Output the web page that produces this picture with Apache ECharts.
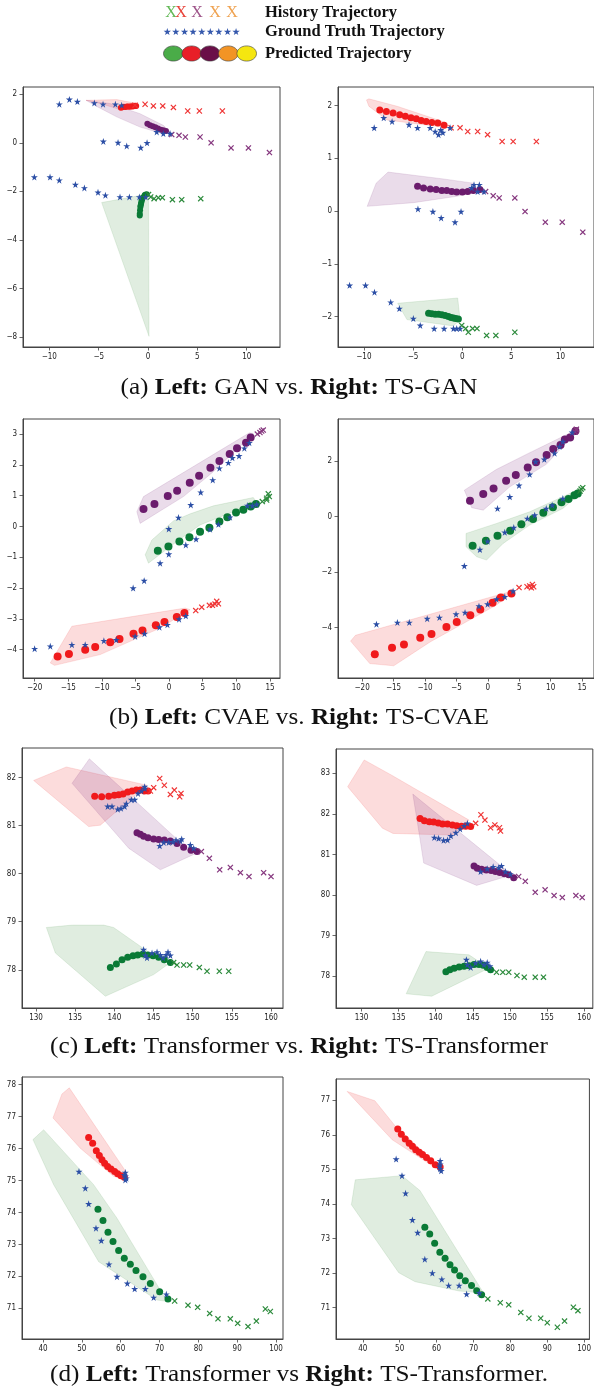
<!DOCTYPE html>
<html><head><meta charset="utf-8">
<script src="https://cdn.jsdelivr.net/npm/echarts@6/dist/echarts.min.js"></script>
<style>html,body{margin:0;padding:0;background:#fff}#c{width:594px;height:1397px}</style>
</head><body><div id="c"></div>
<script>
// ---------------- DATA ----------------
// (a) Left: GAN
const aL_xTicks = [-10,-5,0,5,10];
const aL_yTicks = [-8,-6,-4,-2,0,2];
const aL_gt = [[-8.99,1.59],[-7.97,1.79],[-7.16,1.70],[-5.44,1.64],[-4.56,1.59],[-3.31,1.59],[-2.67,1.55],[-4.53,0.06],[-3.04,0.01],[-2.16,-0.13],[-0.74,-0.20],[-0.10,0.0],[0.88,0.45],[1.55,0.38],[2.23,0.38],[-11.52,-1.41],[-9.93,-1.41],[-8.99,-1.54],[-7.36,-1.72],[-6.45,-1.86],[-5.07,-2.04],[-4.32,-2.16],[-2.84,-2.23],[-1.89,-2.23],[-0.88,-2.23],[-0.24,-2.23]];
const aL_histRed = [[-1.32,1.55],[-0.30,1.59],[0.54,1.52],[1.49,1.52],[2.57,1.46],[4.02,1.31],[5.20,1.31],[7.53,1.31]];
const aL_predRed = [[-2.75,1.45],[-2.6,1.47],[-2.45,1.49],[-2.3,1.48],[-2.15,1.5],[-2.0,1.5],[-1.85,1.49],[-1.7,1.51],[-1.55,1.5],[-1.4,1.52],[-1.3,1.53],[-1.2,1.52]];
const aL_areaRed = [[-6.28,1.75],[-3.18,1.78],[-1.08,1.62],[-1.08,1.41],[-2.84,1.37],[-4.86,1.62]];
const aL_predPurple = [[-0.07,0.79],[0.2,0.72],[0.47,0.68],[0.74,0.64],[1.01,0.59],[1.28,0.54],[1.55,0.52],[1.82,0.49]];
const aL_histPurple = [[2.4,0.34],[3.14,0.31],[3.78,0.24],[5.27,0.24],[6.39,0.0],[8.41,-0.21],[10.17,-0.21],[12.3,-0.40]];
const aL_areaPurple = [[-6.28,1.75],[-3.85,1.62],[-0.81,1.2],[1.55,0.72],[2.06,0.52],[0.88,0.45],[-0.81,0.65],[-3.18,1.07],[-5.2,1.5]];
const aL_predGreen = [[-0.14,-2.12],[-0.3,-2.14],[-0.37,-2.18],[-0.54,-2.26],[-0.6,-2.32],[-0.64,-2.37],[-0.68,-2.45],[-0.71,-2.51],[-0.75,-2.58],[-0.78,-2.64],[-0.81,-2.78],[-0.84,-2.92],[-0.84,-2.99]];
const aL_histGreen = [[0.05,-2.13],[0.27,-2.23],[0.61,-2.30],[1.05,-2.26],[1.45,-2.26],[2.47,-2.34],[3.41,-2.34],[5.34,-2.30]];
const aL_areaGreen = [[-4.70,-2.46],[-0.14,-2.12],[0.05,-2.15],[0.1,-7.97]];

// (a) Right: TS-GAN
const aR_xTicks = [-10,-5,0,5,10];
const aR_yTicks = [-2,-1,0,1,2];
const aR_gt = [[-8.95,1.58],[-7.98,1.77],[-7.13,1.70],[-5.41,1.64],[-4.54,1.58],[-3.25,1.58],[-2.75,1.51],[-2.41,1.45],[-2.18,1.54],[-1.97,1.49],[-1.23,1.58],[0.96,0.44],[1.20,0.50],[1.74,0.50],[1.57,0.37],[2.21,0.37],[-4.50,0.04],[-2.98,-0.01],[-2.14,-0.13],[-0.73,-0.21],[-0.12,-0.01],[-11.45,-1.41],[-9.83,-1.41],[-8.92,-1.54],[-7.27,-1.73],[-6.39,-1.85],[-4.97,-2.04],[-4.27,-2.17],[-2.85,-2.23],[-1.84,-2.23],[-0.89,-2.23],[-0.56,-2.23],[-0.22,-2.23]];
const aR_histRed = [[-1.13,1.58],[-0.22,1.58],[0.56,1.51],[1.57,1.51],[2.58,1.45],[4.06,1.32],[5.18,1.32],[7.54,1.32]];
const aR_predRed = [[-8.38,1.92],[-7.71,1.89],[-7.03,1.86],[-6.36,1.83],[-5.78,1.80],[-5.21,1.77],[-4.67,1.75],[-4.17,1.72],[-3.66,1.70],[-3.09,1.68],[-2.48,1.67],[-1.84,1.63]];
const aR_areaRed = [[-9.73,2.11],[-9.49,2.13],[-6.63,1.99],[-3.25,1.78],[-1.57,1.67],[-1.74,1.59],[-3.93,1.64],[-7.64,1.73],[-9.49,1.99]];
const aR_predPurple = [[-4.54,0.47],[-3.93,0.44],[-3.25,0.42],[-2.65,0.41],[-2.07,0.39],[-1.57,0.39],[-1.06,0.37],[-0.56,0.36],[0.02,0.36],[0.56,0.37],[1.13,0.39],[1.80,0.41]];
const aR_histPurple = [[2.38,0.37],[3.15,0.29],[3.76,0.25],[5.35,0.25],[6.39,-0.01],[8.45,-0.21],[10.17,-0.21],[12.26,-0.40]];
const aR_areaPurple = [[-9.66,0.09],[-8.75,0.53],[-7.54,0.74],[-1.91,0.61],[1.13,0.53],[1.64,0.37],[-0.56,0.28],[-4.94,0.16]];
const aR_predGreen = [[-3.42,-1.94],[-3.09,-1.95],[-2.75,-1.96],[-2.41,-1.96],[-2.07,-1.97],[-1.74,-1.98],[-1.40,-2.0],[-1.13,-2.02],[-0.89,-2.03],[-0.66,-2.04],[-0.39,-2.05]];
const aR_histGreen = [[-0.05,-2.17],[0.35,-2.23],[0.62,-2.30],[1.06,-2.23],[1.50,-2.23],[2.48,-2.36],[3.42,-2.36],[5.35,-2.30]];
const aR_areaGreen = [[-6.56,-1.75],[-0.46,-1.65],[-0.22,-2.06],[-0.89,-2.18],[-5.62,-2.06]];

// (b) Left: CVAE
const bL_xTicks = [-20,-15,-10,-5,0,5,10,15];
const bL_yTicks = [-4,-3,-2,-1,0,1,2,3];
const bL_gt = [[6.49,1.51],[7.48,1.89],[8.81,2.07],[9.41,2.23],[10.40,2.29],[11.19,2.54],[11.93,2.72],[4.70,1.11],[3.22,0.70],[1.39,0.29],[-0.05,-0.08],[-1.34,-1.19],[-3.71,-1.76],[-5.35,-2.0],[-0.05,-0.90],[2.48,-0.60],[4.01,-0.41],[6.09,-0.09],[7.33,0.07],[9.06,0.30],[11.63,0.68],[12.38,0.68],[13.02,0.72],[-20,-3.97],[-17.67,-3.89],[-14.46,-3.84],[-12.48,-3.84],[-9.70,-3.71],[-7.87,-3.68],[-5.05,-3.57],[-3.66,-3.48],[-1.44,-3.27],[-0.25,-3.19],[1.48,-3.01],[2.48,-2.90]];
const bL_predPurple = [[-3.81,0.57],[-2.18,0.73],[-0.20,0.99],[1.19,1.16],[3.07,1.42],[4.46,1.65],[6.14,1.91],[7.48,2.13],[9.01,2.35],[10.10,2.54],[11.44,2.72],[12.13,2.89]];
const bL_histPurple = [[13.12,3.0],[13.51,3.05],[13.76,3.10],[14.0,3.13]];
const bL_areaPurple = [[-4.80,0.48],[-3.81,0.97],[11.93,3.04],[12.52,3.02],[6.58,1.78],[2.13,0.97],[-4.31,0.10]];
const bL_predGreen = [[-1.68,-0.79],[-0.10,-0.65],[1.53,-0.49],[3.02,-0.35],[4.60,-0.17],[5.99,-0.04],[7.48,0.16],[8.66,0.30],[9.95,0.45],[11.04,0.54],[12.13,0.65],[12.92,0.73]];
const bL_histGreen = [[13.86,0.81],[14.50,0.86],[14.50,0.92],[14.75,1.06],[14.90,0.97]];
const bL_areaGreen = [[-3.56,-0.92],[-2.57,-0.44],[0.64,0.18],[3.12,0.41],[6.58,0.67],[12.52,0.94],[13.02,0.79],[9.55,0.48],[4.60,0.05],[1.14,-0.49],[-3.07,-1.19]];
const bL_predRed = [[-16.58,-4.22],[-14.90,-4.14],[-12.48,-4.00],[-10.99,-3.91],[-8.76,-3.76],[-7.38,-3.65],[-5.30,-3.48],[-3.96,-3.38],[-1.98,-3.21],[-0.69,-3.10],[1.14,-2.94],[2.28,-2.81]];
const bL_histRed = [[3.96,-2.73],[4.85,-2.62],[5.99,-2.56],[6.44,-2.56],[6.83,-2.52],[7.08,-2.43],[7.33,-2.51]];
const bL_areaRed = [[-17.67,-4.43],[-14.46,-3.24],[2.38,-2.65],[3.12,-2.70],[-1.34,-3.30],[-10.25,-4.16],[-17.03,-4.51]];

// (b) Right: TS-CVAE
const bR_xTicks = [-20,-15,-10,-5,0,5,10,15];
const bR_yTicks = [-4,-2,0,2];
const bR_gt = [[-3.74,-1.78],[-1.26,-1.19],[1.54,0.29],[3.50,0.71],[4.97,1.12],[6.66,1.52],[7.61,1.98],[8.99,2.06],[10.62,2.28],[11.42,2.52],[11.94,2.70],[13.42,3.03],[-0.04,-0.89],[2.70,-0.57],[4.13,-0.40],[6.29,-0.07],[7.46,0.05],[9.30,0.29],[10.25,0.41],[11.94,0.65],[-17.73,-3.88],[-14.40,-3.82],[-12.50,-3.82],[-9.65,-3.68],[-7.70,-3.64],[-5.06,-3.52],[-3.63,-3.46],[-1.41,-3.23],[-0.04,-3.16],[1.38,-2.98],[2.70,-2.89],[4.02,-2.69]];
const bR_predPurple = [[-2.84,0.57],[-0.73,0.81],[0.91,1.01],[2.91,1.29],[4.45,1.50],[6.35,1.77],[7.67,1.96],[9.36,2.22],[10.41,2.43],[11.57,2.58],[12.26,2.78],[13.10,2.85],[13.95,3.08]];
const bR_histPurple = [[13.9,3.05],[14.06,3.12],[14.1,3.15]];
const bR_areaPurple = [[-3.74,0.95],[1.38,1.70],[6.66,2.30],[14.06,3.12],[11.94,2.52],[9.30,1.88],[3.50,1.07],[-0.73,0.23],[-2.58,0.32]];
const bR_predGreen = [[-2.42,-1.05],[-0.31,-0.87],[1.54,-0.69],[3.55,-0.51],[5.34,-0.28],[7.19,-0.09],[8.83,0.14],[10.36,0.33],[11.73,0.51],[12.84,0.63],[13.79,0.77],[14.32,0.83]];
const bR_histGreen = [[14.69,0.92],[14.85,0.99],[15.11,1.04]];
const bR_areaGreen = [[-3.47,-0.61],[1.38,-0.25],[6.66,0.17],[12.47,0.77],[15.11,1.07],[15.37,0.95],[11.94,0.29],[6.66,-0.31],[2.44,-0.97],[-0.20,-1.57],[-1.78,-1.45],[-3.47,-1.09]];
const bR_predRed = [[-17.99,-4.96],[-15.25,-4.73],[-13.35,-4.61],[-10.76,-4.37],[-8.97,-4.23],[-6.59,-3.98],[-4.95,-3.80],[-2.79,-3.56],[-1.20,-3.35],[0.75,-3.11],[2.07,-2.92],[3.76,-2.77]];
const bR_histRed = [[4.97,-2.56],[6.24,-2.53],[6.66,-2.50],[6.93,-2.57],[7.09,-2.45],[7.30,-2.53]];
const bR_areaRed = [[-21.85,-4.49],[-21.06,-4.28],[3.50,-2.71],[4.29,-2.69],[1.38,-3.19],[-9.18,-4.52],[-14.98,-5.38],[-18.79,-5.30]];

// (c) Left: Transformer
const cL_xTicks = [130,135,140,145,150,155,160];
const cL_yTicks = [78,79,80,81,82];
const cL_gt = [[139.15,81.40],[139.70,81.40],[140.43,81.34],[140.85,81.36],[141.32,81.40],[141.53,81.46],[142.17,81.54],[142.60,81.54],[143.02,81.67],[143.45,81.72],[143.87,81.77],[143.87,81.81],[145.79,80.58],[146.30,80.65],[146.94,80.65],[147.49,80.66],[147.87,80.70],[148.43,80.68],[148.60,80.72],[149.70,80.60],[150.13,80.53],[143.74,78.42],[143.96,78.30],[144.17,78.25],[144.81,78.35],[145.45,78.37],[145.87,78.31],[146.21,78.25],[146.60,78.31],[146.85,78.37],[147.15,78.30]];
const cL_predRed = [[137.49,81.61],[138.38,81.60],[139.28,81.61],[140.0,81.63],[140.55,81.64],[141.11,81.66],[141.70,81.70],[142.26,81.72],[142.81,81.74],[143.32,81.74],[143.83,81.72],[144.30,81.72]];
const cL_histRed = [[144.60,81.72],[145.02,81.79],[145.79,81.98],[146.38,81.84],[147.15,81.65],[147.66,81.74],[148.34,81.60],[148.51,81.67]];
const cL_areaRed = [[129.70,81.94],[133.87,82.22],[144.17,81.84],[138.21,81.01],[136.72,80.98]];
const cL_predPurple = [[142.89,80.85],[143.32,80.82],[143.74,80.78],[144.30,80.75],[145.02,80.72],[145.66,80.71],[146.38,80.70],[147.15,80.68],[148.0,80.63],[148.85,80.55],[149.79,80.49],[150.55,80.46]];
const cL_histPurple = [[151.11,80.46],[152.13,80.32],[153.45,80.08],[154.81,80.13],[156.09,80.02],[157.19,79.94],[159.06,80.02],[160.0,79.94]];
const cL_areaPurple = [[136.81,82.39],[150.13,80.40],[145.87,80.08],[141.83,80.53],[134.60,81.88]];
const cL_predGreen = [[139.49,78.05],[140.26,78.12],[140.98,78.21],[141.70,78.26],[142.38,78.29],[142.98,78.31],[143.66,78.33],[144.30,78.31],[144.94,78.29],[145.66,78.26],[146.38,78.21],[147.15,78.15]];
const cL_histGreen = [[147.57,78.15],[148.0,78.10],[148.85,78.10],[149.62,78.10],[150.85,78.05],[151.83,77.97],[153.40,77.97],[154.60,77.97]];
const cL_areaGreen = [[131.32,78.88],[134.60,78.93],[138.64,78.93],[139.91,78.88],[146.72,78.10],[145.02,77.90],[138.85,77.45],[132.47,78.35]];

// (c) Right: TS-Transformer
const cR_xTicks = [130,135,140,145,150,155,160];
const cR_yTicks = [78,79,80,81,82,83];
const cR_gt = [[139.81,81.42],[140.39,81.40],[141.06,81.35],[141.59,81.36],[142.04,81.46],[142.71,81.54],[143.29,81.63],[143.82,81.71],[144.27,81.77],[146.05,80.58],[146.94,80.65],[147.74,80.70],[148.50,80.68],[148.86,80.72],[149.39,80.58],[150.06,80.52],[144.13,78.41],[144.27,78.29],[144.71,78.22],[145.38,78.33],[146.05,78.37],[146.50,78.29],[146.94,78.34],[147.30,78.25]];
const cR_predRed = [[137.89,81.89],[138.47,81.83],[139.14,81.81],[139.72,81.80],[140.34,81.78],[140.92,81.75],[141.59,81.75],[142.26,81.73],[142.84,81.71],[143.46,81.70],[144.04,81.70],[144.71,81.69]];
const cR_histRed = [[145.38,81.77],[146.09,81.98],[146.63,81.85],[147.39,81.66],[147.97,81.73],[148.59,81.66],[148.73,81.58]];
const cR_areaRed = [[128.13,82.67],[130.36,83.33],[134.01,82.96],[144.49,81.85],[142.26,81.48],[134.24,81.52],[132.81,81.65]];
const cR_predPurple = [[145.16,80.72],[145.60,80.66],[146.18,80.64],[146.81,80.62],[147.48,80.61],[148.06,80.58],[148.64,80.56],[149.26,80.53],[149.84,80.50],[150.51,80.43]];
const cR_histPurple = [[151.18,80.46],[152.07,80.34],[153.41,80.07],[154.74,80.13],[155.95,79.99],[157.06,79.94],[158.89,79.99],[159.74,79.94]];
const cR_areaPurple = [[136.91,82.49],[150.29,80.50],[145.51,80.24],[138.38,80.79],[137.80,81.48]];
const cR_predGreen = [[141.37,78.11],[141.90,78.16],[142.48,78.20],[143.15,78.23],[143.82,78.25],[144.49,78.26],[145.16,78.29],[145.83,78.29],[146.41,78.27],[146.94,78.22],[147.39,78.16]];
const cR_histGreen = [[148.19,78.10],[149.04,78.10],[149.84,78.10],[150.95,78.02],[151.93,77.98],[153.41,77.98],[154.52,77.98]];
const cR_areaGreen = [[136.02,77.57],[138.69,78.61],[144.49,78.53],[147.16,78.20],[139.45,77.51]];

// (d) Left: Transformer
const dL_xTicks = [40,50,60,70,80,90,100];
const dL_yTicks = [71,72,73,74,75,76,77,78];
const dL_gt = [[61.20,75.25],[61.20,75.13],[61.20,75.02],[60.94,75.18],[61.46,75.07],[49.27,75.28],[50.90,74.76],[51.76,74.27],[53.65,73.51],[55.02,73.12],[57.0,72.38],[59.06,71.99],[61.72,71.78],[63.61,71.61],[66.35,71.61],[68.50,71.34],[71.76,71.44]];
const dL_predRed = [[51.76,76.35],[52.79,76.17],[53.73,75.93],[54.51,75.78],[55.19,75.65],[55.88,75.54],[56.65,75.44],[57.51,75.36],[58.45,75.28],[59.23,75.21],[60.09,75.15],[60.94,75.10]];
const dL_areaRed = [[42.58,76.96],[44.89,77.71],[46.78,77.90],[61.63,75.23],[61.63,75.02],[58.20,75.13],[49.61,76.01]];
const dL_predGreen = [[54.16,74.10],[55.45,73.75],[56.74,73.38],[58.03,73.09],[59.48,72.81],[60.94,72.57],[62.49,72.38],[63.95,72.18],[65.75,71.99],[67.64,71.78],[70.04,71.52],[72.19,71.29]];
const dL_histGreen = [[73.91,71.23],[77.34,71.10],[79.83,71.03],[82.92,70.84],[85.06,70.67],[88.24,70.67],[90.13,70.53],[92.79,70.43],[94.94,70.60],[97.25,70.98],[98.54,70.90]];
const dL_areaGreen = [[37.42,76.28],[40.17,76.59],[53.05,74.87],[59.06,73.82],[71.50,71.31],[72.36,71.21],[69.36,71.26],[54.33,72.46],[42.75,74.87]];

// (d) Right: TS-Transformer
const dR_xTicks = [40,50,60,70,80,90,100];
const dR_yTicks = [71,72,73,74,75,76,77];
const dR_gt = [[60.97,75.25],[60.97,75.15],[60.97,75.02],[60.80,75.09],[61.24,74.96],[49.03,75.30],[50.62,74.82],[51.59,74.31],[53.45,73.54],[54.87,73.17],[56.81,72.40],[58.85,72.0],[61.42,71.82],[63.27,71.64],[66.11,71.64],[68.14,71.39],[71.59,71.43]];
const dR_predRed = [[49.47,76.17],[50.44,76.02],[51.50,75.88],[52.57,75.76],[53.45,75.67],[54.34,75.57],[55.31,75.50],[56.19,75.43],[57.26,75.35],[58.41,75.25],[59.65,75.14],[60.97,75.07]];
const dR_areaRed = [[35.75,77.26],[43.27,76.99],[48.85,76.25],[61.68,74.99],[61.24,74.94],[56.37,75.28],[47.96,75.86]];
const dR_predGreen = [[56.81,73.33],[58.14,73.13],[59.47,72.86],[60.88,72.60],[62.30,72.43],[63.63,72.24],[64.87,72.09],[66.28,71.92],[67.79,71.78],[69.47,71.64],[70.88,71.49],[72.21,71.37]];
const dR_histGreen = [[73.89,71.25],[77.26,71.14],[79.56,71.08],[82.83,70.86],[85.04,70.69],[88.23,70.69],[90.0,70.56],[92.74,70.43],[94.69,70.61],[97.08,71.01],[98.32,70.91]];
const dR_areaGreen = [[36.90,73.98],[37.96,74.70],[50.62,74.82],[55.49,74.39],[72.74,71.42],[66.11,71.48],[54.16,71.75],[49.73,72.01]];

// Text
const legendLabels = ['History Trajectory','Ground Truth Trajectory','Predicted Trajectory'];
const captions = [
  [['(a) ','n'],['Left:','b'],[' GAN vs. ','n'],['Right:','b'],[' TS-GAN','n']],
  [['(b) ','n'],['Left:','b'],[' CVAE vs. ','n'],['Right:','b'],[' TS-CVAE','n']],
  [['(c) ','n'],['Left:','b'],[' Transformer vs. ','n'],['Right:','b'],[' TS-Transformer','n']],
  [['(d) ','n'],['Left:','b'],[' Transformer vs ','n'],['Right:','b'],[' TS-Transformer.','n']]
];

// ---------------- STYLE / LAYOUT ----------------
const COL = {
  red:   {area:'rgba(240,70,70,0.19)',  pred:'#f01a1c', hist:'#ef3535'},
  purple:{area:'rgba(130,50,130,0.17)', pred:'#6b1c6d', hist:'#86387f'},
  green: {area:'rgba(50,135,50,0.15)',  pred:'#0a7a36', hist:'#2b8a3b'}
};
const STAR_COLOR = '#2b4ea5';
const STAR = 'path://M50,0L61.2,34.5L97.6,34.5L68.2,55.9L79.4,90.5L50,69.1L20.6,90.5L31.8,55.9L2.4,34.5L38.8,34.5Z';
const CROSS = 'path://M0,1.4L1.4,0L10,8.6L8.6,10Z M8.6,0L10,1.4L1.4,10L0,8.6Z';

const panels = [
 {left:23, top:87, width:257, height:260, xr:[-12.67,13.37], yr:[-8.41,2.3], xt:aL_xTicks, yt:aL_yTicks, gt:aL_gt, dot:6,
  red:[aL_areaRed,aL_predRed,aL_histRed], purple:[aL_areaPurple,aL_predPurple,aL_histPurple], green:[aL_areaGreen,aL_predGreen,aL_histGreen]},
 {left:338, top:87, width:257, height:260, xr:[-12.63,13.4], yr:[-2.58,2.355], xt:aR_xTicks, yt:aR_yTicks, gt:aR_gt, dot:7,
  red:[aR_areaRed,aR_predRed,aR_histRed], purple:[aR_areaPurple,aR_predPurple,aR_histPurple], green:[aR_areaGreen,aR_predGreen,aR_histGreen]},
 {left:23, top:419, width:257, height:259, xr:[-21.73,16.49], yr:[-4.92,3.49], xt:bL_xTicks, yt:bL_yTicks, gt:bL_gt, dot:8,
  red:[bL_areaRed,bL_predRed,bL_histRed], purple:[bL_areaPurple,bL_predPurple,bL_histPurple], green:[bL_areaGreen,bL_predGreen,bL_histGreen]},
 {left:338, top:419, width:257, height:259, xr:[-23.85,16.9], yr:[-5.82,3.515], xt:bR_xTicks, yt:bR_yTicks, gt:bR_gt, dot:8,
  red:[bR_areaRed,bR_predRed,bR_histRed], purple:[bR_areaPurple,bR_predPurple,bR_histPurple], green:[bR_areaGreen,bR_predGreen,bR_histGreen]},
 {left:22, top:748, width:261, height:260, xr:[128.21,161.53], yr:[77.205,82.615], xt:cL_xTicks, yt:cL_yTicks, gt:cL_gt, dot:7,
  red:[cL_areaRed,cL_predRed,cL_histRed], purple:[cL_areaPurple,cL_predPurple,cL_histPurple], green:[cL_areaGreen,cL_predGreen,cL_histGreen]},
 {left:336, top:749, width:259, height:259, xr:[126.56,161.17], yr:[77.22,83.6], xt:cR_xTicks, yt:cR_yTicks, gt:cR_gt, dot:7,
  red:[cR_areaRed,cR_predRed,cR_histRed], purple:[cR_areaPurple,cR_predPurple,cR_histPurple], green:[cR_areaGreen,cR_predGreen,cR_histGreen]},
 {left:22, top:1077, width:261, height:262, xr:[34.6,101.8], yr:[70.04,78.24], xt:dL_xTicks, yt:dL_yTicks, gt:dL_gt, dot:7,
  red:[dL_areaRed,dL_predRed,[]], green:[dL_areaGreen,dL_predGreen,dL_histGreen]},
 {left:336, top:1079, width:259, height:260, xr:[32.73,101.43], yr:[70.09,77.62], xt:dR_xTicks, yt:dR_yTicks, gt:dR_gt, dot:7,
  red:[dR_areaRed,dR_predRed,[]], green:[dR_areaGreen,dR_predGreen,dR_histGreen]}
];

const fmt = v => (v < 0 ? '\u2212' + Math.abs(v) : String(v));
const labelStyle = {fontSize:8, color:'#222', fontFamily:'"DejaVu Sans Condensed","DejaVu Sans",sans-serif'};
const AX = '#444';

const grid = [], xAxis = [], yAxis = [], series = [];
panels.forEach((p, i) => {
  grid.push({left:p.left, top:p.top, width:p.width, height:p.height, show:true, borderColor:AX, borderWidth:1, containLabel:false});
  xAxis.push({gridIndex:i, type:'value', min:p.xr[0], max:p.xr[1],
    axisLine:{onZero:false, lineStyle:{color:AX, width:1}},
    axisTick:{show:true, length:3.5, customValues:p.xt, lineStyle:{color:AX, width:0.8}},
    axisLabel:Object.assign({customValues:p.xt, formatter:fmt, margin:6}, labelStyle),
    splitLine:{show:false}});
  yAxis.push({gridIndex:i, type:'value', min:p.yr[0], max:p.yr[1],
    axisLine:{onZero:false, lineStyle:{color:AX, width:1}},
    axisTick:{show:true, length:3.5, customValues:p.yt, lineStyle:{color:AX, width:0.8}},
    axisLabel:Object.assign({customValues:p.yt, formatter:fmt, margin:6}, labelStyle),
    splitLine:{show:false}});
  ['red','purple','green'].forEach(c => {
    if (!p[c]) return;
    const [area] = p[c];
    series.push({type:'custom', xAxisIndex:i, yAxisIndex:i, silent:true, z:1, clip:true,
      data:[area[0]],
      renderItem:(params, api) => ({type:'polygon',
        shape:{points:area.map(pt => api.coord(pt))},
        style:{fill:COL[c].area, stroke:COL[c].area, lineWidth:0.8}})});
  });
  ['red','purple','green'].forEach(c => {
    if (!p[c]) return;
    const [, pred, hist] = p[c];
    series.push({type:'scatter', xAxisIndex:i, yAxisIndex:i, silent:true, z:3, data:pred,
      symbol:'circle', symbolSize:p.dot, itemStyle:{color:COL[c].pred, opacity:1}});
    if (hist.length) series.push({type:'scatter', xAxisIndex:i, yAxisIndex:i, silent:true, z:3, data:hist,
      symbol:CROSS, symbolSize:6, itemStyle:{color:COL[c].hist, opacity:1}});
  });
  series.push({type:'scatter', xAxisIndex:i, yAxisIndex:i, silent:true, z:4, data:p.gt,
    symbol:STAR, symbolSize:7, itemStyle:{color:STAR_COLOR, opacity:1}});
});

// legend + captions as graphics
const SERIF = '"Liberation Serif","DejaVu Serif",serif';
const graphic = [];
const xGlyphs = [['X',171,'#63b957'],['X',181,'#e8443a'],['X',197,'#9f558a'],['X',215,'#efa352'],['X',232,'#efa352']];
xGlyphs.forEach(g => graphic.push({type:'text', x:g[1], y:13,
  style:{text:g[0], fill:g[2], font:'16px ' + SERIF, align:'center', verticalAlign:'middle'}}));
graphic.push({type:'text', x:163, y:32, style:{text:'\u2605\u2605\u2605\u2605\u2605\u2605\u2605\u2605\u2605', fill:'#3558ac', font:'9.6px "DejaVu Sans"', verticalAlign:'middle'}});
const legendDots = [[173.3,'#4aac48'],[191.7,'#e81f28'],[210,'#6a0f48'],[228.3,'#f29425'],[246.7,'#f5e610']];
legendDots.forEach(d => graphic.push({type:'ellipse', shape:{cx:d[0], cy:53.5, rx:9.8, ry:7.6},
  style:{fill:d[1], stroke:'#3a3a3a', lineWidth:0.6}}));
[13, 32, 54].forEach((y, k) => graphic.push({type:'text', x:265, y:y,
  style:{text:legendLabels[k], fill:'#111', font:'bold 16.5px ' + SERIF, verticalAlign:'middle'}}));

const capY = [388, 718, 1047, 1375];
captions.forEach((cap, k) => {
  graphic.push({type:'text', x:299, y:capY[k], scaleX:1.12,
    style:{text:cap.map(s => '{' + s[1] + '|' + s[0] + '}').join(''),
      align:'center', verticalAlign:'middle',
      rich:{n:{fontFamily:SERIF, fontSize:22.5, fill:'#111', color:'#111'}, b:{fontFamily:SERIF, fontSize:22.5, fontWeight:'bold', fill:'#111', color:'#111'}}}});
});

const chart = echarts.init(document.getElementById('c'), null, {renderer:'canvas', width:594, height:1397});
chart.setOption({animation:false, backgroundColor:'#fff', grid, xAxis, yAxis, series, graphic});
</script>
</body></html>
